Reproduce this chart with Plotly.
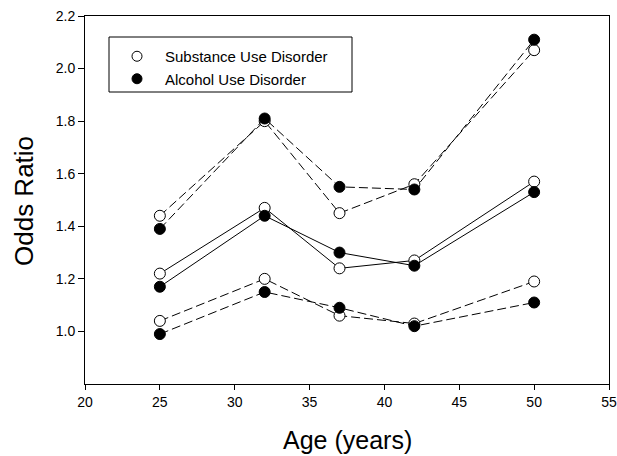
import plotly.graph_objects as go

ages = [25, 32, 37, 42, 50]
sud_or = [1.22, 1.47, 1.24, 1.27, 1.57]
sud_upper = [1.44, 1.80, 1.45, 1.56, 2.07]
sud_lower = [1.04, 1.20, 1.06, 1.03, 1.19]
aud_or = [1.17, 1.44, 1.30, 1.25, 1.53]
aud_upper = [1.39, 1.81, 1.55, 1.54, 2.11]
aud_lower = [0.99, 1.15, 1.09, 1.02, 1.11]

y_ticks = [1.0, 1.2, 1.4, 1.6, 1.8, 2.0, 2.2]
y_tick_labels = ["1.0", "1.2", "1.4", "1.6", "1.8", "2.0", "2.2"]
x_ticks = [20, 25, 30, 35, 40, 45, 50, 55]

W, H = 617, 456
L, R, T, B = 85, 8, 16, 72
PW, PH = W - L - R, H - T - B

open_marker = dict(symbol="circle", size=11, color="white", line=dict(color="black", width=1))
filled_marker = dict(symbol="circle", size=11, color="black", line=dict(color="black", width=1))

fig = go.Figure()

def add(y, marker, dash):
    fig.add_trace(go.Scatter(x=ages, y=y, mode="lines+markers", marker=marker,
                             line=dict(color="black", width=1, dash=dash),
                             showlegend=False, hoverinfo="x+y"))

dash = "9px,4px"
add(sud_upper, open_marker, dash)
add(aud_upper, filled_marker, dash)
add(sud_lower, open_marker, dash)
add(aud_lower, filled_marker, dash)
add(sud_or, open_marker, "solid")
add(aud_or, filled_marker, "solid")

leg_open = dict(symbol="circle", size=10, color="white", line=dict(color="black", width=1))
leg_filled = dict(symbol="circle", size=10, color="black", line=dict(color="black", width=1))
fig.add_trace(go.Scatter(x=[None], y=[None], mode="markers", marker=leg_open,
                         name="Substance Use Disorder"))
fig.add_trace(go.Scatter(x=[None], y=[None], mode="markers", marker=leg_filled,
                         name="Alcohol Use Disorder"))

def px_x(p):
    return (p - L) / PW

def px_y(p):
    return 1 - (p - T) / PH

fig.add_shape(type="rect", xref="paper", yref="paper",
              x0=px_x(109), x1=px_x(352), y0=px_y(92), y1=px_y(37),
              line=dict(color="black", width=1), fillcolor="rgba(0,0,0,0)")

fig.add_annotation(text="Odds Ratio", xref="paper", yref="paper",
                   x=px_x(24), y=px_y(201), textangle=-90, showarrow=False,
                   xanchor="center", yanchor="middle", font=dict(size=26))
fig.add_annotation(text="Age (years)", xref="paper", yref="paper",
                   x=px_x(347), y=px_y(440), showarrow=False,
                   xanchor="center", yanchor="middle", font=dict(size=25))

fig.update_layout(
    width=W, height=H,
    margin=dict(l=L, r=R, t=T, b=B, autoexpand=False),
    paper_bgcolor="white", plot_bgcolor="white",
    font=dict(family="Arial, Liberation Sans, sans-serif", color="black", size=14),
    legend=dict(x=px_x(109), y=px_y(40), xanchor="left", yanchor="top",
                bgcolor="rgba(0,0,0,0)", borderwidth=0, font=dict(size=15),
                tracegroupgap=0, itemwidth=46),
    xaxis=dict(range=[20, 55], tickvals=x_ticks, ticks="outside", ticklen=5,
               tickcolor="black", showline=True, linecolor="black", linewidth=1,
               mirror=True, showgrid=False, zeroline=False, automargin=False),
    yaxis=dict(range=[0.8, 2.2], tickvals=y_ticks, ticktext=y_tick_labels,
               ticks="outside", ticklen=6,
               tickcolor="black", showline=True, linecolor="black", linewidth=1,
               mirror=True, showgrid=False, zeroline=False, automargin=False),
)

fig.write_html("out.html", config={"displayModeBar": False},
               post_script="document.body.style.margin='0';document.body.style.overflow='hidden';")
